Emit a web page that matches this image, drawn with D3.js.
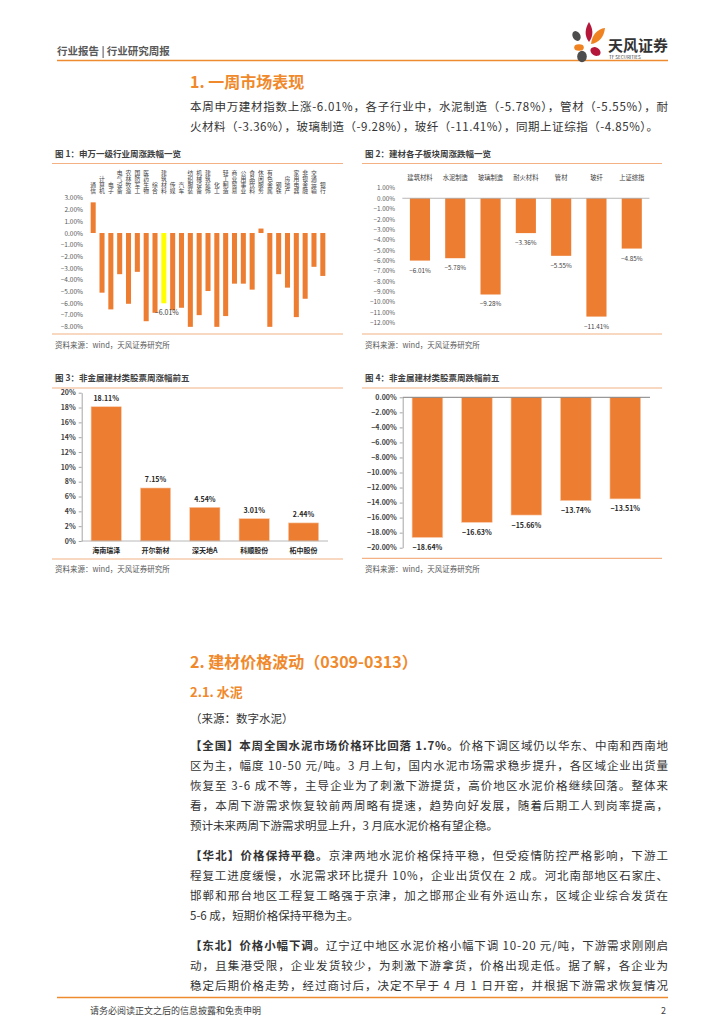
<!DOCTYPE html>
<html><head><meta charset="utf-8">
<script src="https://cdn.jsdelivr.net/npm/d3@7"></script>
<style>body{margin:0;background:#fff}svg{display:block}text{font-family:"Noto Sans CJK SC","Noto Sans",sans-serif}</style>
</head><body>
<svg id="page" width="724" height="1024"></svg>
<script>
// ---------- data ----------
const industryNames = ["通信","计算机","电子","电气设备","农林牧渔","国防军工","医药生物","综合","建筑材料","传媒","汽车","纺织服装","机械设备","建筑装饰","化工","轻工制造","商业贸易","公用事业","食品饮料","休闲服务","有色金属","钢铁","房地产","家用电器","非银金融","交通运输","银行"];
const industryChanges = [2.62,-5.10,-6.53,-3.52,-6.05,-3.32,-7.54,-6.82,-6.01,-6.59,-6.39,-8.02,-7.02,-4.96,-8.02,-7.10,-4.33,-4.33,-4.84,0.38,-8.02,-3.52,-4.67,-7.19,-5.62,-2.89,-3.67];
const highlightIndustry = "建筑材料";
const industryTicks = [3,2,1,0,-1,-2,-3,-4,-5,-6,-7,-8];

const subsectorNames = ["建筑材料","水泥制造","玻璃制造","耐火材料","管材","玻纤","上证综指"];
const subsectorChanges = [-6.01,-5.78,-9.28,-3.36,-5.55,-11.41,-4.85];
const subsectorTicks = [1,0,-1,-2,-3,-4,-5,-6,-7,-8,-9,-10,-11,-12];

const gainerNames = ["海南瑞泽","开尔新材","深天地A","科顺股份","柘中股份"];
const gainerChanges = [18.11,7.15,4.54,3.01,2.44];
const gainerTicks = [0,2,4,6,8,10,12,14,16,18,20];

const loserRanks = ["1","2","3","4","5"];
const loserChanges = [-18.64,-16.63,-15.66,-13.74,-13.51];
const loserTicks = [0,-2,-4,-6,-8,-10,-12,-14,-16,-18,-20];

// ---------- page ----------
const ORANGE = "#ED7D31";
const HEAD = "#F0892B";
const RULE = "#F4B183";
const svg = d3.select("#page");
svg.append("rect").attr("width",724).attr("height",1024).attr("fill","#fff");

// header
svg.append("text").attr("x",57).attr("y",55).attr("font-size",10.5).attr("font-weight","bold")
  .attr("fill","#595959").attr("xml:space","preserve").text("行业报告 | 行业研究周报");
svg.append("line").attr("x1",57).attr("x2",668).attr("y1",60.5).attr("y2",60.5)
  .attr("stroke","#EE8A2F").attr("stroke-width",1.5);
// logo
const logo = svg.append("g");
logo.append("path").attr("d","M589,22 C593,29 594,35 589,42 C584,35 585,29 589,22Z").attr("fill","#B5173B");
logo.append("path").attr("d","M591,44 C592,35 597,29 605,28 C604,37 599,43 591,44Z").attr("fill","#EF8221");
logo.append("ellipse").attr("cx",576.5).attr("cy",36).attr("rx",3.8).attr("ry",5.2).attr("transform","rotate(-30,576.5,36)").attr("fill","#4D4D4D");
logo.append("ellipse").attr("cx",579).attr("cy",47.5).attr("rx",4.8).attr("ry",3.2).attr("fill","#EF8221");
logo.append("ellipse").attr("cx",595.5).attr("cy",51.5).attr("rx",5.4).attr("ry",4).attr("transform","rotate(30,595.5,51.5)").attr("fill","#B5173B");
logo.append("ellipse").attr("cx",582).attr("cy",56.5).attr("rx",4.8).attr("ry",5.8).attr("fill","#4D4D4D");
svg.append("text").attr("x",608).attr("y",51).attr("font-size",15).attr("font-weight","bold").attr("fill","#333").text("天风证券");
svg.append("text").attr("x",609).attr("y",58.5).attr("font-size",4.6).attr("fill","#333").attr("font-family","Liberation Sans").text("TF SECURITIES");

// headings and text helpers
function heading(t,x,y,size){
  svg.append("text").attr("x",x).attr("y",y).attr("font-size",size).attr("font-weight","bold").attr("fill",HEAD).text(t);
}
function textLine(segs,x,y,size,width){
  const t = svg.append("text").attr("x",x).attr("y",y).attr("font-size",size).attr("fill","#333");
  segs.forEach(s=>t.append("tspan").attr("font-weight",s[1]?"bold":"normal").text(s[0]));
  if(width){ t.attr("textLength",width).attr("lengthAdjust","spacing"); }
  return t;
}
function paragraph(lines,x,y0,lh,width,lastWidth){
  lines.forEach((segs,i)=>textLine(segs,x,y0+i*lh,11.5,i<lines.length-1?width:(lastWidth||null)));
}

heading("1. 一周市场表现",190,88,16);
paragraph([
  [["本周申万建材指数上涨-6.01%，各子行业中，水泥制造（-5.78%），管材（-5.55%），耐",0]],
  [["火材料（-3.36%），玻璃制造（-9.28%），玻纤（-11.41%），同期上证综指（-4.85%）。",0]]
],190,111,20,478,468);

// ---------- chart frame helper ----------
function frame(title,x0,x1,yTitle,yRule,yBottom,ySource){
  svg.append("text").attr("x",x0+3).attr("y",yTitle).attr("font-size",8.5).attr("font-weight","bold").attr("fill","#404040").text(title);
  svg.append("line").attr("x1",x0).attr("x2",x1).attr("y1",yRule).attr("y2",yRule).attr("stroke",RULE).attr("stroke-width",1.2);
  svg.append("line").attr("x1",x0).attr("x2",x1).attr("y1",yBottom).attr("y2",yBottom).attr("stroke",RULE).attr("stroke-width",1.2);
  svg.append("text").attr("x",x0+3).attr("y",ySource).attr("font-size",7.5).attr("fill","#595959").text("资料来源：wind，天风证券研究所");
}
const pct2 = d=>d3.format(".2f")(d)+"%";

// ---------- chart 1 ----------
frame("图 1：申万一级行业周涨跌幅一览",52,343,157,163.5,334,348);
{
  const y = d3.scaleLinear().domain([-8,3]).range([326.6,197.9]);
  const x = d3.scaleBand().domain(industryNames).range([88.9,327.1]).paddingInner(0.43).paddingOuter(0.2);
  const ax = svg.append("g").attr("transform","translate(85,0)")
    .call(d3.axisLeft(y).tickValues(industryTicks).tickFormat(pct2).tickSize(0).tickPadding(2));
  ax.select(".domain").remove();
  ax.selectAll("text").attr("font-size",6.5).attr("fill","#595959").attr("font-family","Liberation Sans");
  svg.append("g").selectAll("rect").data(industryNames).join("rect")
    .attr("x",d=>x(d)).attr("width",x.bandwidth())
    .attr("y",(d,i)=>y(Math.max(0,industryChanges[i])))
    .attr("height",(d,i)=>Math.abs(y(industryChanges[i])-y(0)))
    .attr("fill",d=>d===highlightIndustry?"#FFFF00":ORANGE);
  // vertical (stacked, upright) category labels
  svg.append("g").selectAll("text").data(industryNames).join("text")
    .attr("x",d=>x(d)+x.bandwidth()/2).attr("y",193.5)
    .attr("writing-mode","vertical-rl").style("text-orientation","upright")
    .attr("text-anchor","end").attr("font-size",5.8).attr("fill","#404040")
    .text(d=>d);
  const hi = industryNames.indexOf(highlightIndustry);
  svg.append("text").attr("x",x(highlightIndustry)+x.bandwidth()/2+3).attr("y",y(industryChanges[hi])+12)
    .attr("text-anchor","middle").attr("font-size",7).attr("fill","#404040").attr("font-family","Liberation Sans")
    .text(pct2(industryChanges[hi]));
}

// ---------- chart 2 ----------
frame("图 2：建材各子板块周涨跌幅一览",362,662,157,163.5,334,348);
{
  const y = d3.scaleLinear().domain([-12,1]).range([322.7,187.9]);
  const x = d3.scaleBand().domain(subsectorNames).range([402.3,649.4]).paddingInner(0.43).paddingOuter(0.215);
  const ax = svg.append("g").attr("transform","translate(397,0)")
    .call(d3.axisLeft(y).tickValues(subsectorTicks).tickFormat(pct2).tickSize(0).tickPadding(2));
  ax.select(".domain").remove();
  ax.selectAll("text").attr("font-size",6.3).attr("fill","#595959").attr("font-family","Liberation Sans");
  svg.append("g").selectAll("rect").data(subsectorNames).join("rect")
    .attr("x",d=>x(d)).attr("width",x.bandwidth())
    .attr("y",y(0)).attr("height",(d,i)=>y(subsectorChanges[i])-y(0)).attr("fill",ORANGE);
  svg.append("line").attr("x1",402.3).attr("x2",649.4).attr("y1",y(0)).attr("y2",y(0)).attr("stroke","#A6A6A6").attr("stroke-width",0.8);
  svg.append("g").selectAll("text").data(subsectorNames).join("text")
    .attr("x",d=>x(d)+x.bandwidth()/2).attr("y",179.5).attr("text-anchor","middle")
    .attr("font-size",6.3).attr("fill","#404040").text(d=>d);
  svg.append("g").selectAll("text").data(subsectorNames).join("text")
    .attr("x",d=>x(d)+x.bandwidth()/2).attr("y",(d,i)=>y(subsectorChanges[i])+12).attr("text-anchor","middle")
    .attr("font-size",6.3).attr("fill","#404040").attr("font-family","Liberation Sans").text((d,i)=>pct2(subsectorChanges[i]));
}

// ---------- chart 3 ----------
frame("图 3：非金属建材类股票周涨幅前五",52,343,381,388,559,572);
{
  const y = d3.scaleLinear().domain([0,20]).range([541,392.7]);
  const x = d3.scaleBand().domain(gainerNames).range([81.7,328]).paddingInner(0.387).paddingOuter(0.19);
  const ax = svg.append("g").attr("transform","translate(81.7,0)")
    .call(d3.axisLeft(y).tickValues(gainerTicks).tickFormat(d=>d+"%").tickSize(3).tickPadding(3).tickSizeOuter(0));
  ax.select(".domain").attr("stroke","#A6A6A6");
  ax.selectAll(".tick line").attr("stroke","#A6A6A6");
  ax.selectAll("text").attr("font-size",7).attr("font-weight","bold").attr("fill","#404040").attr("font-family","Liberation Sans");
  svg.append("g").selectAll("rect").data(gainerNames).join("rect")
    .attr("x",d=>x(d)).attr("width",x.bandwidth())
    .attr("y",(d,i)=>y(gainerChanges[i])).attr("height",(d,i)=>y(0)-y(gainerChanges[i]))
    .attr("fill",ORANGE).attr("stroke","#F8CBAD").attr("stroke-width",0.6);
  svg.append("line").attr("x1",81.7).attr("x2",328).attr("y1",y(0)).attr("y2",y(0)).attr("stroke","#A6A6A6").attr("stroke-width",0.8);
  svg.append("g").selectAll("text").data(gainerNames).join("text")
    .attr("x",d=>x(d)+x.bandwidth()/2).attr("y",(d,i)=>y(gainerChanges[i])-5.5).attr("text-anchor","middle")
    .attr("font-size",7).attr("font-weight","bold").attr("fill","#262626").attr("font-family","Liberation Sans")
    .text((d,i)=>pct2(gainerChanges[i]));
  svg.append("g").selectAll("text").data(gainerNames).join("text")
    .attr("x",d=>x(d)+x.bandwidth()/2).attr("y",553).attr("text-anchor","middle")
    .attr("font-size",7).attr("font-weight","bold").attr("fill","#262626").text(d=>d);
}

// ---------- chart 4 ----------
frame("图 4：非金属建材类股票周跌幅前五",362,662,381,388,558.3,572);
{
  const y = d3.scaleLinear().domain([-20,0]).range([547.7,397.3]);
  const x = d3.scaleBand().domain(loserRanks).range([402.7,650]).paddingInner(0.38).paddingOuter(0.19);
  const ax = svg.append("g").attr("transform","translate(402.7,0)")
    .call(d3.axisLeft(y).tickValues(loserTicks).tickFormat(pct2).tickSize(3).tickPadding(3).tickSizeOuter(0));
  ax.select(".domain").attr("stroke","#A6A6A6");
  ax.selectAll(".tick line").attr("stroke","#A6A6A6");
  ax.selectAll("text").attr("font-size",7).attr("font-weight","bold").attr("fill","#404040").attr("font-family","Liberation Sans");
  svg.append("g").selectAll("rect").data(loserRanks).join("rect")
    .attr("x",d=>x(d)).attr("width",x.bandwidth())
    .attr("y",y(0)).attr("height",(d,i)=>y(loserChanges[i])-y(0))
    .attr("fill",ORANGE).attr("stroke","#F8CBAD").attr("stroke-width",0.6);
  svg.append("line").attr("x1",402.7).attr("x2",650).attr("y1",y(0)).attr("y2",y(0)).attr("stroke","#808080").attr("stroke-width",1);
  svg.append("g").selectAll("text").data(loserRanks).join("text")
    .attr("x",d=>x(d)+x.bandwidth()/2).attr("y",(d,i)=>y(loserChanges[i])+12.5).attr("text-anchor","middle")
    .attr("font-size",7).attr("font-weight","bold").attr("fill","#262626").attr("font-family","Liberation Sans")
    .text((d,i)=>pct2(loserChanges[i]));
}

// ---------- section 2 ----------
heading("2. 建材价格波动（0309-0313）",190,668,16);
heading("2.1. 水泥",190,697,13);
textLine([["（来源：数字水泥）",0]],190,723,11.5,null);
paragraph([
  [["【全国】本周全国水泥市场价格环比回落 1.7%。",1],["价格下调区域仍以华东、中南和西南地",0]],
  [["区为主，幅度 10-50 元/吨。3 月上旬，国内水泥市场需求稳步提升，各区域企业出货量",0]],
  [["恢复至 3-6 成不等，主导企业为了刺激下游提货，高价地区水泥价格继续回落。整体来",0]],
  [["看，本周下游需求恢复较前两周略有提速，趋势向好发展，随着后期工人到岗率提高，",0]],
  [["预计未来两周下游需求明显上升，3 月底水泥价格有望企稳。",0]]
],190,750,20,478);
paragraph([
  [["【华北】价格保持平稳。",1],["京津两地水泥价格保持平稳，但受疫情防控严格影响，下游工",0]],
  [["程复工进度缓慢，水泥需求环比提升 10%，企业出货仅在 2 成。河北南部地区石家庄、",0]],
  [["邯郸和邢台地区工程复工略强于京津，加之邯邢企业有外运山东，区域企业综合发货在",0]],
  [["5-6 成，短期价格保持平稳为主。",0]]
],190,860,20,478);
paragraph([
  [["【东北】价格小幅下调。",1],["辽宁辽中地区水泥价格小幅下调 10-20 元/吨，下游需求刚刚启",0]],
  [["动，且集港受限，企业发货较少，为刺激下游拿货，价格出现走低。据了解，各企业为",0]],
  [["稳定后期价格走势，经过商讨后，决定不早于 4 月 1 日开窑，并根据下游需求恢复情况",0]]
],190,950,20,478,478);

// footer
svg.append("line").attr("x1",57).attr("x2",668).attr("y1",997.5).attr("y2",997.5).attr("stroke","#EE8A2F").attr("stroke-width",1.5);
svg.append("text").attr("x",90).attr("y",1014).attr("font-size",9).attr("fill","#404040").text("请务必阅读正文之后的信息披露和免责申明");
svg.append("text").attr("x",666).attr("y",1014).attr("text-anchor","end").attr("font-size",9).attr("fill","#404040").text("2");
</script>
</body></html>
